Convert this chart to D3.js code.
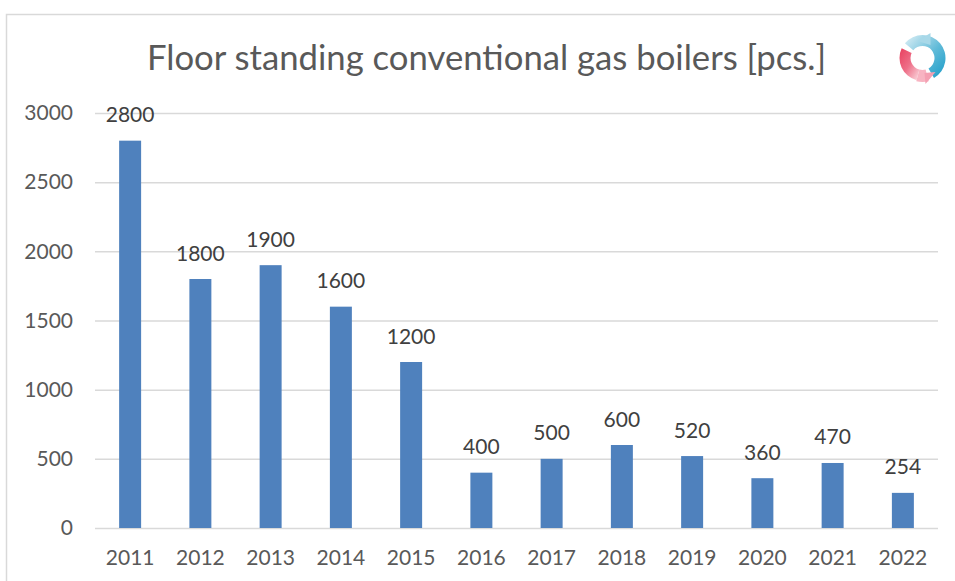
<!DOCTYPE html>
<html><head><meta charset="utf-8">
<script src="https://cdn.jsdelivr.net/npm/d3@7"></script>
<style>html,body{margin:0;padding:0;background:#fff}svg{display:block}text{font-family:Lato,"Open Sans",sans-serif}</style>
</head><body><svg id="c" width="955" height="581"></svg>
<script>
const years=["2011","2012","2013","2014","2015","2016","2017","2018","2019","2020","2021","2022"];
const values=[2800,1800,1900,1600,1200,400,500,600,520,360,470,254];
const yTicks=[0,500,1000,1500,2000,2500,3000];
const titleText="Floor standing conventional gas boilers [pcs.]";
const svg=d3.select("#c");
const x=d3.scaleBand().domain(years).range([95,938]).paddingInner(0.687).paddingOuter(0.3435);
const y=d3.scaleLinear().domain([0,3000]).range([528,113]);
svg.append("path").attr("d","M955,14.5H6.5V581").attr("fill","none").attr("stroke","#d9d9d9").attr("stroke-width",1.5);
svg.append("text").attr("x",486.5).attr("y",70).attr("text-anchor","middle").attr("font-size",34.7).attr("fill","#595959").text(titleText);
const gy=svg.append("g").attr("transform","translate(95,0)").call(d3.axisLeft(y).tickValues(yTicks).tickSize(-843).tickPadding(22).tickFormat(d3.format("d")));
gy.select(".domain").remove();
gy.selectAll("line").attr("stroke","#d9d9d9").attr("stroke-width",1.5);
gy.selectAll("text").attr("font-size",21).attr("fill","#595959").attr("font-family","Lato");
svg.selectAll("rect.b").data(values).join("rect").attr("class","b")
 .attr("x",(d,i)=>x(years[i])).attr("width",x.bandwidth()).attr("y",d=>y(d)).attr("height",d=>y(0)-y(d)).attr("fill","#4f81bd");
svg.selectAll("text.l").data(values).join("text").attr("class","l")
 .attr("x",(d,i)=>x(years[i])+x.bandwidth()/2).attr("y",d=>y(d)-18.5).attr("text-anchor","middle")
 .attr("font-size",21).attr("fill","#404040").text(d=>d);
const gx=svg.append("g").attr("transform","translate(0,528)").call(d3.axisBottom(x).tickSize(0).tickPadding(22));
gx.select(".domain").remove();
gx.selectAll("text").attr("font-size",21).attr("fill","#595959").attr("font-family","Lato");
const defs=svg.append("defs");
const g1=defs.append("linearGradient").attr("id","gb").attr("x1",0).attr("y1",0).attr("x2",1).attr("y2",1);
g1.append("stop").attr("offset",0).attr("stop-color","#dff0f6");g1.append("stop").attr("offset",0.55).attr("stop-color","#5fbad8");g1.append("stop").attr("offset",1).attr("stop-color","#1b9cc8");
const g2=defs.append("linearGradient").attr("id","gr").attr("x1",0).attr("y1",0).attr("x2",1).attr("y2",1);
g2.append("stop").attr("offset",0).attr("stop-color","#e8405f");g2.append("stop").attr("offset",0.5).attr("stop-color","#ee6f88");g2.append("stop").attr("offset",1).attr("stop-color","#fbdde3");
const logo=svg.append("g").attr("transform","translate(922.5,58)");
const deg=Math.PI/180;
logo.append("path").attr("d",d3.arc()({innerRadius:12,outerRadius:23,startAngle:-50*deg,endAngle:150*deg})).attr("fill","url(#gb)");
logo.append("path").attr("d","M-5,-17L8,-13L8,-25Z").attr("fill","#a8d8e8");
logo.append("path").attr("d",d3.arc()({innerRadius:12,outerRadius:23,startAngle:-165*deg,endAngle:-65*deg})).attr("fill","url(#gr)");
logo.append("path").attr("d",d3.arc()({innerRadius:12,outerRadius:24,startAngle:165*deg,endAngle:195*deg})).attr("fill","#f8b4c2");
logo.append("path").attr("d","M2,15L3,26L13,14Z").attr("fill","#f4a0b2");
</script></body></html>
